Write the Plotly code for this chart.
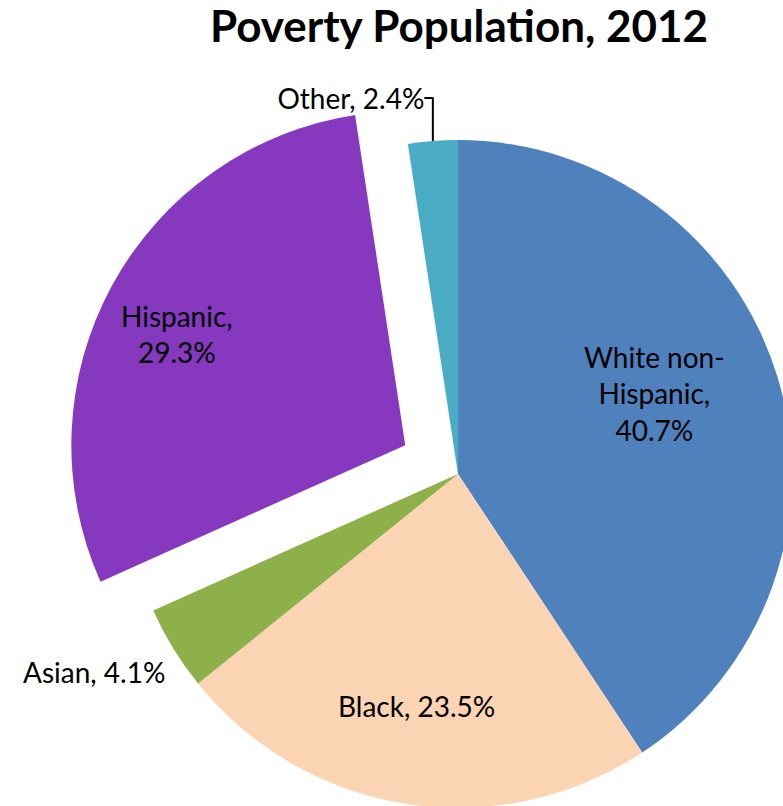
import math
import plotly.graph_objects as go

# Share of the poverty population by race/ethnicity, 2012
categories = ["White non-Hispanic", "Black", "Asian", "Hispanic", "Other"]
shares = [40.7, 23.5, 4.1, 29.3, 2.4]
label_names = ["White non-<br>Hispanic", "Black", "Asian", "Hispanic", "Other"]
label_seps = [",<br>", ", ", ", ", ",<br>", ", "]
colors = ["#4F81BD", "#FBD4B4", "#8EB04A", "#8639BF", "#4BACC6"]
pulls = [0, 0, 0, 0.18, 0]

# Label placement: (radius fraction, angle nudge in degrees, x anchor);
# None -> plotly draws the label itself (outside, with its leader line).
label_place = [(0.635, -5.5, "center"), (0.706, 1.3, "center"),
               (1.055, -2.7, "right"), (0.76, -2.6, "center"), None]

labels_text = [f"{n}{s}{v:.1f}%" for n, s, v in zip(label_names, label_seps, shares)]

FONT = "Lato, Open Sans, sans-serif"
W, H = 853, 869
M = dict(l=64, r=1, t=80, b=1)

fig = go.Figure(
    go.Pie(
        labels=categories,
        values=shares,
        text=[t if p is None else "" for t, p in zip(labels_text, label_place)],
        texttemplate="%{text}",
        textposition=["outside" if p is None else "none" for p in label_place],
        sort=False,
        direction="clockwise",
        rotation=0,
        pull=pulls,
        automargin=False,
        marker=dict(colors=colors, line=dict(width=0)),
        textfont=dict(family=FONT, size=28, color="black"),
        showlegend=False,
        hoverinfo="label+percent",
    )
)

# Pie geometry as plotly lays it out (full domain, radius shrunk by max pull)
pw, ph = W - M["l"] - M["r"], H - M["t"] - M["b"]
radius = min(pw, ph) / 2 / (1 + max(pulls))
cx, cy = pw / 2, ph / 2  # plot-area pixels, y measured upward from bottom

total = sum(shares)
start = 0.0
for val, txt, pull, place in zip(shares, labels_text, pulls, label_place):
    mid = 360 * (start + val / 2) / total
    start += val
    if place is None:
        continue
    frac, nudge, anchor = place
    a = math.radians(mid)
    ox = cx + pull * radius * math.sin(a)
    oy = cy + pull * radius * math.cos(a)
    b = math.radians(mid + nudge)
    x = ox + frac * radius * math.sin(b)
    y = oy + frac * radius * math.cos(b)
    fig.add_annotation(
        x=x / pw, y=y / ph, xref="paper", yref="paper",
        text=txt, showarrow=False, xanchor=anchor, yanchor="middle",
        font=dict(family=FONT, size=28, color="black"),
    )

# The canvas is a little larger than the window so the pie runs off
# the right and bottom edges.
fig.update_layout(
    width=W,
    height=H,
    margin=dict(**M, autoexpand=False),
    paper_bgcolor="white",
    title=dict(
        text="<b>Poverty Population, 2012</b>",
        font=dict(family=FONT, size=44, color="black"),
        x=459 / W, xanchor="center", xref="container",
        y=1 - 27 / H, yanchor="middle", yref="container",
    ),
)

fig.write_html(
    "out.html",
    post_script="document.documentElement.style.overflow='hidden';"
    "document.body.style.overflow='hidden';",
)
